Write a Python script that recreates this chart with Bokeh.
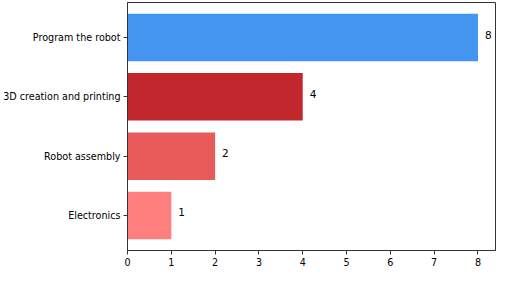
from bokeh.plotting import figure
from bokeh.models import ColumnDataSource, FixedTicker, Range1d
from bokeh.embed import file_html
from bokeh.resources import INLINE
from bokeh.core.properties import value

categories = ["Electronics", "Robot assembly", "3D creation and printing", "Program the robot"]
counts = [1, 2, 4, 8]
colors = ["#FF7F7F", "#E85B5B", "#C1272D", "#4495F0"]
x_ticks = [0, 1, 2, 3, 4, 5, 6, 7, 8]

pos = list(range(len(categories)))
src = ColumnDataSource(dict(y=pos, v=counts, c=colors, lbl=[str(v) for v in counts], cat=categories))

p = figure(width=496, height=268, output_backend="svg", toolbar_location=None,
           x_range=Range1d(0, 8.4), y_range=Range1d(-0.59, 3.59),
           min_border_left=120, min_border_right=1, min_border_top=2, min_border_bottom=0)

p.hbar(y="y", right="v", left=0, height=0.8, fill_color="c", line_color=None, source=src)
p.text(x="v", y="y", text="lbl", source=src, x_offset=7, y_offset=-3,
       text_align="left", text_baseline="middle", text_font_size="10.5px",
       text_font=value("DejaVu Sans"), text_color="#000000")

p.grid.visible = False
p.outline_line_color = "#333333"
p.outline_line_width = 1

p.xaxis.ticker = FixedTicker(ticks=x_ticks)
p.yaxis.ticker = FixedTicker(ticks=pos)
p.yaxis.major_label_overrides = {i: c for i, c in zip(pos, categories)}
for ax in (p.xaxis, p.yaxis):
    ax.major_label_text_font = "DejaVu Sans"
    ax.major_label_text_font_size = "9.6px"
    ax.major_label_text_color = "#000000"
    ax.major_tick_out = 4
    ax.major_tick_in = 0
    ax.minor_tick_out = 0
    ax.minor_tick_in = 0
    ax.axis_line_color = "#333333"
    ax.major_tick_line_color = "#333333"
    ax.major_label_standoff = 3

open("out.html", "w").write(file_html(p, INLINE))
